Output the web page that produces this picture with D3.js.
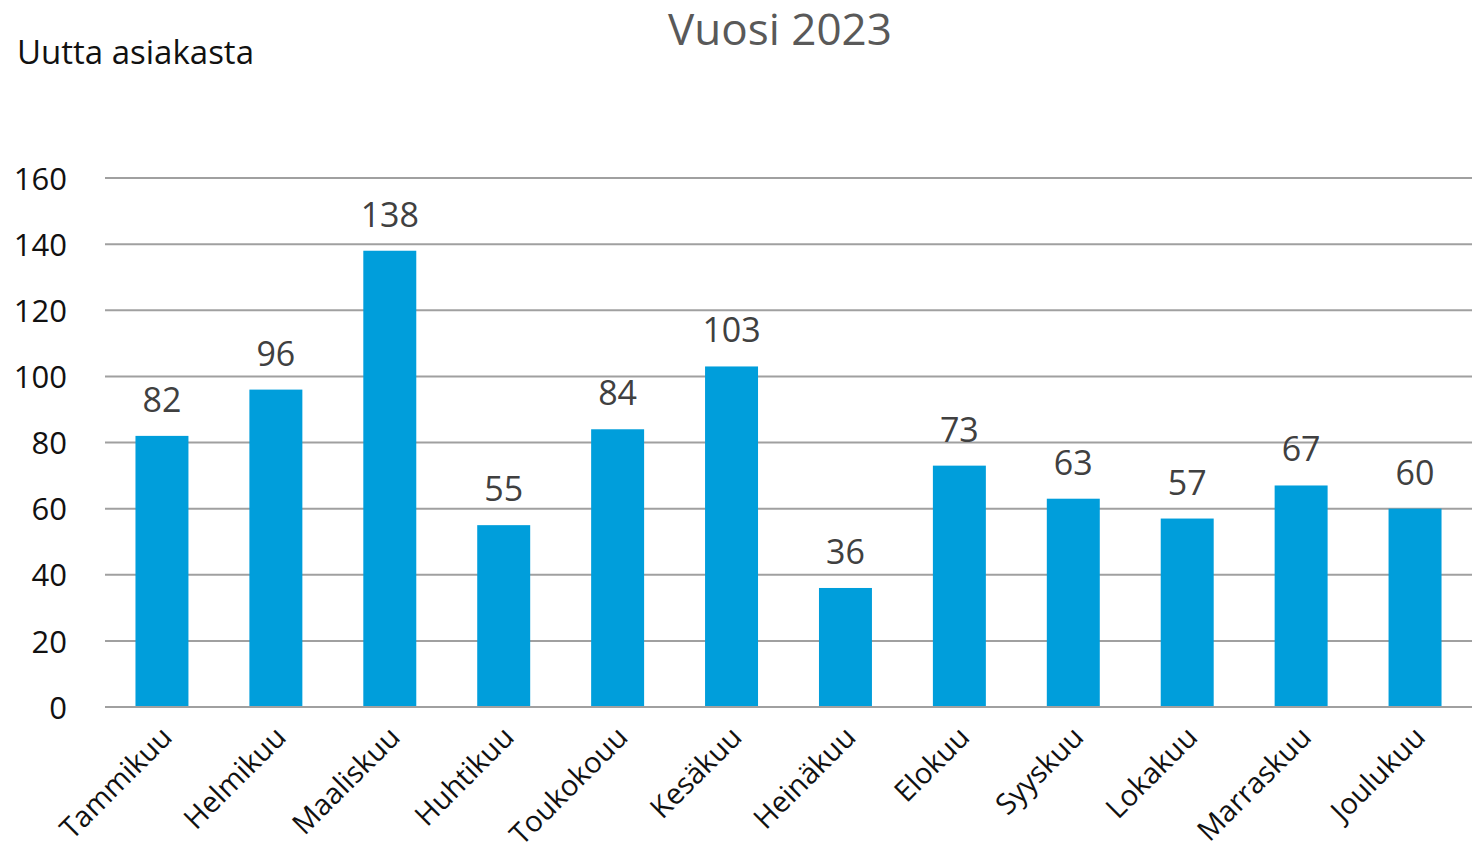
<!DOCTYPE html>
<html>
<head>
<meta charset="utf-8">
<script src="https://cdn.jsdelivr.net/npm/d3@7"></script>
<style>
  body { margin: 0; background: #fff; }
  text { font-family: "Open Sans", "Noto Sans", sans-serif; }
</style>
</head>
<body>
<script>
// data
var months = ["Tammikuu", "Helmikuu", "Maaliskuu", "Huhtikuu", "Toukokouu", "Kesäkuu",
              "Heinäkuu", "Elokuu", "Syyskuu", "Lokakuu", "Marraskuu", "Joulukuu"];
var customers = [82, 96, 138, 55, 84, 103, 36, 73, 63, 57, 67, 60];
var yTicks = [0, 20, 40, 60, 80, 100, 120, 140, 160];

var w = 1478, h = 846;
var plotLeft = 105, plotRight = 1472, plotTop = 178, plotBottom = 707;

var svg = d3.select("body").append("svg")
    .attr("width", w)
    .attr("height", h);

var x = d3.scaleBand()
    .domain(months)
    .range([plotLeft, plotRight])
    .paddingInner(0.535)
    .paddingOuter(0.2675);

var y = d3.scaleLinear()
    .domain([0, 160])
    .range([plotBottom, plotTop]);

// gridlines
svg.append("g")
    .selectAll("line")
    .data(yTicks)
    .enter().append("line")
    .attr("x1", plotLeft)
    .attr("x2", plotRight)
    .attr("y1", function(d) { return y(d); })
    .attr("y2", function(d) { return y(d); })
    .style("stroke", "#a0a0a0")
    .style("stroke-width", 2);

// y axis labels
var yAxis = d3.axisLeft(y).tickValues(yTicks).tickSize(0).tickPadding(38);
var gy = svg.append("g")
    .attr("transform", "translate(" + plotLeft + ",0)")
    .call(yAxis);
gy.select(".domain").remove();
gy.selectAll("text")
    .attr("dy", "0.36em")
    .style("font-size", "31px")
    .style("fill", "#111")
    .style("font-family", "'Open Sans', sans-serif");

// bars
svg.append("g")
    .selectAll("rect")
    .data(customers)
    .enter().append("rect")
    .attr("x", function(d, i) { return x(months[i]); })
    .attr("y", function(d) { return y(d); })
    .attr("width", x.bandwidth())
    .attr("height", function(d) { return y(0) - y(d); })
    .style("fill", "#009edb");

// bottom line drawn again above bars
svg.append("line")
    .attr("x1", plotLeft).attr("x2", plotRight)
    .attr("y1", y(0)).attr("y2", y(0))
    .style("stroke", "#a0a0a0")
    .style("stroke-width", 2);

// value labels
svg.append("g")
    .selectAll("text")
    .data(customers)
    .enter().append("text")
    .attr("x", function(d, i) { return x(months[i]) + x.bandwidth() / 2; })
    .attr("y", function(d) { return y(d) - 24; })
    .attr("text-anchor", "middle")
    .style("font-size", "34px")
    .style("fill", "#404040")
    .text(function(d) { return d; });

// x axis labels
var xAxis = d3.axisBottom(x).tickSize(0).tickPadding(0);
var gx = svg.append("g")
    .attr("transform", "translate(0," + plotBottom + ")")
    .call(xAxis);
gx.select(".domain").remove();
gx.selectAll("text")
    .attr("text-anchor", "end")
    .attr("dy", 0)
    .attr("transform", "translate(12,32) rotate(-45)")
    .style("font-size", "29px")
    .style("fill", "#111")
    .style("font-family", "'Open Sans', sans-serif");

// titles
svg.append("text")
    .attr("x", 780)
    .attr("y", 45)
    .attr("text-anchor", "middle")
    .style("font-size", "44px")
    .style("fill", "#595959")
    .text("Vuosi 2023");

svg.append("text")
    .attr("x", 17)
    .attr("y", 64)
    .style("font-size", "33px")
    .style("fill", "#111")
    .text("Uutta asiakasta");
</script>
</body>
</html>
